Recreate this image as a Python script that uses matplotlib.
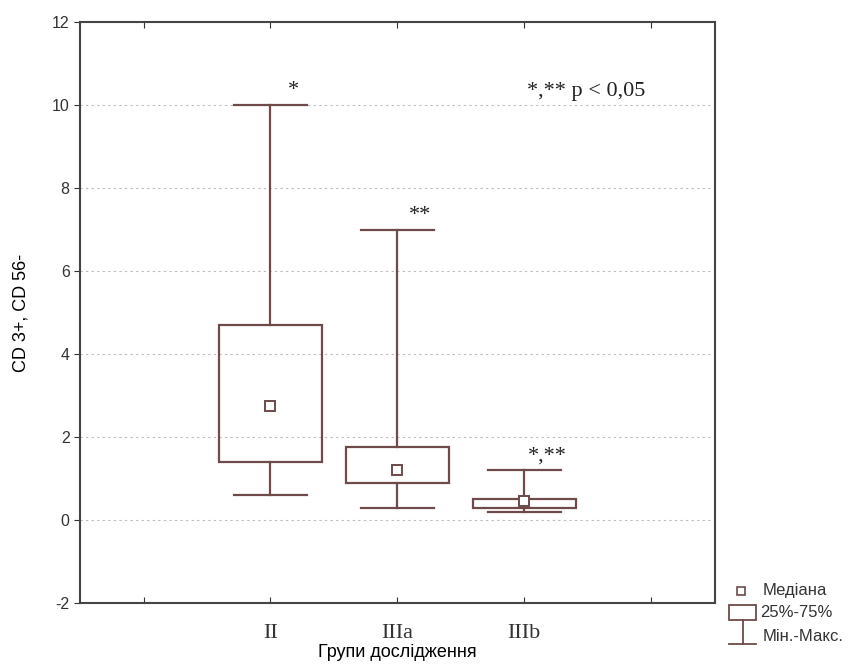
import matplotlib
matplotlib.use("Agg")
import matplotlib.pyplot as plt
from matplotlib.patches import Rectangle

# data
groups = ["II", "IIIa", "IIIb"]
mins = [0.6, 0.3, 0.2]
q1 = [1.4, 0.9, 0.28]
medians = [2.75, 1.2, 0.45]
q3 = [4.7, 1.75, 0.5]
maxs = [10.0, 7.0, 1.2]
marks = ["*", "**", "*,**"]

box_col = "#6e4a4a"
serif = "Liberation Serif"
sans = "Liberation Sans"

fig = plt.figure(figsize=(8.57, 6.70), dpi=100)
ax = fig.add_axes([0.0934, 0.100, 0.7406, 0.867])

pos = [2, 3, 4]
box_w = 0.81
cap_w = 0.57
for x, lo, a, m, b, hi, s in zip(pos, mins, q1, medians, q3, maxs, marks):
    ax.add_patch(Rectangle((x - box_w / 2, a), box_w, b - a, fill=False,
                           edgecolor=box_col, lw=1.6, zorder=3))
    ax.plot([x, x], [b, hi], color=box_col, lw=1.6, zorder=3)
    ax.plot([x, x], [lo, a], color=box_col, lw=1.6, zorder=3)
    ax.plot([x - cap_w / 2, x + cap_w / 2], [hi, hi], color=box_col, lw=1.6, zorder=3)
    ax.plot([x - cap_w / 2, x + cap_w / 2], [lo, lo], color=box_col, lw=1.6, zorder=3)
    ax.plot(x, m, marker="s", ms=7, mfc="white", mec=box_col, mew=1.4, zorder=4)
    ax.text(x + 0.18, hi + 0.12, s, fontsize=16, family=serif, ha="center",
            va="bottom", color="#222222")

ax.text(4.02, 10.1, "*,** p < 0,05", fontsize=16, family=serif, ha="left",
        va="bottom", color="#222222")

ax.set_xlim(0.5, 5.5)
ax.set_ylim(-2, 12)
ax.set_xticks([1, 2, 3, 4, 5])
ax.set_xticklabels(["", "II", "IIIa", "IIIb", ""], family=serif, fontsize=16)
ax.set_yticks(range(-2, 13, 2))
ax.set_yticklabels([str(v) for v in range(-2, 13, 2)], family=sans, fontsize=11.5)
ax.tick_params(axis="x", direction="in", top=True, length=4, pad=15, colors="#333333")
ax.tick_params(axis="y", direction="out", length=4, colors="#333333")
ax.yaxis.grid(True, linestyle=(0, (2, 3)), color="#bbbbbb", lw=0.8)
ax.set_axisbelow(True)
for sp in ax.spines.values():
    sp.set_color("#444444")
    sp.set_linewidth(1.5)

ax.set_ylabel("CD 3+, CD 56-", family=sans, fontsize=13, labelpad=16)
ax.set_xlabel("Групи дослідження", family=sans, fontsize=13, labelpad=1)

# legend drawn in its own little axes
lg = fig.add_axes([0.845, 0.025, 0.155, 0.11])
lg.set_xlim(0, 1)
lg.set_ylim(0, 1)
lg.axis("off")
lg.plot(0.13, 0.85, marker="s", ms=6, mfc="white", mec=box_col, mew=1.2)
lg.add_patch(Rectangle((0.04, 0.45), 0.2, 0.2, fill=False, edgecolor=box_col, lw=1.3))
lg.plot([0.14, 0.14], [0.45, 0.12], color=box_col, lw=1.3)
lg.plot([0.04, 0.24], [0.12, 0.12], color=box_col, lw=1.3)
lg.text(0.29, 0.85, "Медіана", family=sans, fontsize=12, va="center", color="#333333")
lg.text(0.27, 0.55, "25%-75%", family=sans, fontsize=12, va="center", color="#333333")
lg.text(0.29, 0.23, "Мін.-Макс.", family=sans, fontsize=12, va="center", color="#333333")

fig.savefig("out.png", dpi=100, facecolor="white")
